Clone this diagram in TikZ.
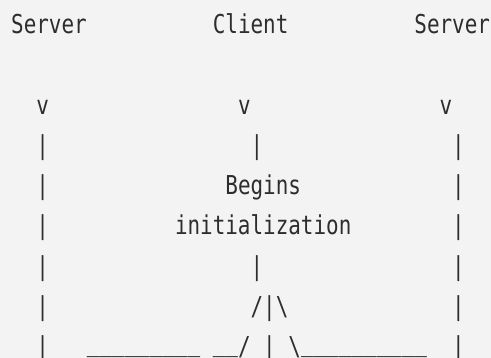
\documentclass[tikz,border=0pt]{standalone}
\usepackage{fontspec}
\usepackage{xcolor}
\usetikzlibrary{positioning}

\newfontfamily\asciifont[FakeStretch=0.805]{DejaVu Sans Mono}
\definecolor{ink}{RGB}{45,45,45}
\definecolor{paper}{RGB}{243,243,243}

\tikzset{
  glyph/.style={anchor=base west, inner sep=0pt, outer sep=0pt,
    text=ink, font=\asciifont\fontsize{26pt}{30pt}\selectfont},
}

\begin{document}
\begin{tikzpicture}[x=1pt,y=1pt,yscale=-1,xscale=1]
    %set diagram to 491 x 358, background paper
    \useasboundingbox (0,0) rectangle (491,358);
    \fill [paper] (0,0) rectangle (491,358);
    \clip (0,0) rectangle (491,358);

    % Text Node -- header row
    \node [glyph] (srvA) at (11.2,33.5) {Server};
    \node [glyph] (cli) at (212.8,33.5) {Client};
    \node [glyph] (srvB) at (414.4,33.5) {Server};

    % Text Node -- arrow heads
    \node [glyph] (vA) at (36.4,114.1) {v};
    \node [glyph] (vB) at (238.0,114.1) {v};
    \node [glyph] (vC) at (439.6,114.1) {v};

    % Text Node -- row 4
    \node [glyph] (barA4) at (36.4,154.4) {|};
    \node [glyph] (barB4) at (250.6,154.4) {|};
    \node [glyph] (barC4) at (452.2,154.4) {|};

    % Text Node -- row 5
    \node [glyph] (barA5) at (36.4,194.7) {|};
    \node [glyph] (begins) at (225.4,194.7) {Begins};
    \node [glyph] (barC5) at (452.2,194.7) {|};

    % Text Node -- row 6
    \node [glyph] (barA6) at (36.4,235.0) {|};
    \node [glyph] (init) at (175.0,235.0) {initialization};
    \node [glyph] (barC6) at (452.2,235.0) {|};

    % Text Node -- row 7
    \node [glyph] (barA7) at (36.4,275.3) {|};
    \node [glyph] (barB7) at (250.6,275.3) {|};
    \node [glyph] (barC7) at (452.2,275.3) {|};

    % Text Node -- row 8, fork top
    \node [glyph] (barA8) at (36.4,315.6) {|};
    \node [glyph] (forkL8) at (250.6,315.6) {/};
    \node [glyph] (forkM8) at (263.2,315.6) {|};
    \node [glyph] (forkR8) at (275.8,315.6) {\textbackslash};
    \node [glyph] (barC8) at (452.2,315.6) {|};

    % Text Node -- row 9, fork foot
    \node [glyph] (barA9) at (36.4,355.9) {|};
    \node [glyph] (lineL9) at (86.8,351.6) {\_\_\_\_\_\_\_\_\_};
    \node [glyph] (lineM9) at (212.8,351.6) {\_\_};
    \node [glyph] (forkL9) at (238.0,355.9) {/};
    \node [glyph] (forkM9) at (263.2,355.9) {|};
    \node [glyph] (forkR9) at (288.4,355.9) {\textbackslash};
    \node [glyph] (lineR9) at (301.0,351.6) {\_\_\_\_\_\_\_\_\_\_};
    \node [glyph] (barC9) at (452.2,355.9) {|};

\end{tikzpicture}
\end{document}
